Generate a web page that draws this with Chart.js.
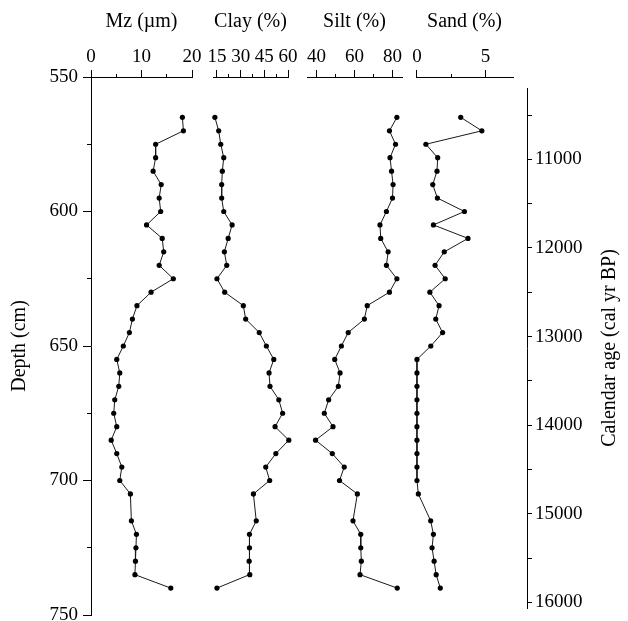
<!DOCTYPE html>
<html>
<head>
<meta charset="utf-8">
<script src="https://cdn.jsdelivr.net/npm/chart.js@4.4.0/dist/chart.umd.min.js"></script>
<style>
  body { margin: 0; background: #fff; }
  #wrap { position: relative; width: 628px; height: 621px; overflow: hidden; background: #fff; }
  #wrap canvas { position: absolute; top: 0; }
</style>
</head>
<body>
<div id="wrap">
  <canvas id="mzChart" width="212" height="640" style="left:0px"></canvas>
  <canvas id="clayChart" width="115" height="640" style="left:193px"></canvas>
  <canvas id="siltChart" width="135" height="640" style="left:287px"></canvas>
  <canvas id="sandChart" width="137" height="640" style="left:396px"></canvas>
  <canvas id="ageChart" width="128" height="640" style="left:500px"></canvas>
</div>
<script>
// sample depths (cm) - no sample at 710
const depths = [565, 570, 575, 580, 585, 590, 595, 600, 605, 610, 615, 620, 625, 630, 635, 640, 645, 650,
  655, 660, 665, 670, 675, 680, 685, 690, 695, 700, 705, 715, 720, 725, 730, 735, 740];

const mz = [18.1, 18.3, 12.8, 12.8, 12.3, 13.9, 13.5, 13.8, 11.0, 14.1, 14.4, 13.5, 16.3, 11.9, 9.1, 8.2, 7.6, 6.4,
  5.1, 5.7, 5.5, 4.7, 4.5, 5.1, 4.0, 5.1, 6.1, 5.7, 7.8, 8.0, 9.0, 8.9, 8.8, 8.7, 15.8];
const clay = [13.7, 16.1, 17.4, 19.3, 18.4, 18.0, 18.0, 19.3, 24.6, 22.1, 19.7, 21.2, 15.0, 19.9, 31.7, 33.2, 41.8, 46.3,
  51.0, 48.0, 48.6, 54.2, 56.6, 51.8, 60.5, 52.3, 45.9, 48.4, 38.1, 39.9, 35.6, 35.6, 35.4, 35.8, 15.0];
const silt = [82.3, 78.4, 81.6, 78.7, 79.5, 80.3, 80.0, 76.8, 73.4, 73.8, 77.7, 76.8, 82.3, 78.4, 66.7, 65.2, 56.7, 53.1,
  49.6, 52.4, 51.5, 46.4, 44.1, 48.7, 39.5, 48.3, 54.6, 52.1, 61.5, 59.2, 63.3, 63.3, 63.6, 62.9, 82.5];
const sand = [3.19, 4.73, 0.65, 1.51, 1.46, 1.15, 1.49, 3.46, 1.20, 3.72, 1.99, 1.32, 2.06, 0.94, 1.61, 1.37, 1.87, 1.01,
  0, 0, 0, 0, 0, 0, 0, 0, 0, 0, 0.1, 1.0, 1.2, 1.1, 1.25, 1.4, 1.7];

// tick positions and labelled ticks for each panel
const mzTicks = [0, 5, 10, 15, 20];
const mzLabels = [0, 10, 20];
const clayTicks = [15, 22.5, 30, 37.5, 45, 52.5, 60];
const clayLabels = [15, 30, 45, 60];
const siltTicks = [40, 50, 60, 70, 80];
const siltLabels = [40, 60, 80];
const sandTicks = [0, 2.5, 5];
const sandLabels = [0, 5];
const depthTicks = [550, 575, 600, 625, 650, 675, 700, 725, 750];
const depthLabels = [550, 600, 650, 700, 750];
const ageTicks = [10500, 11000, 11500, 12000, 12500, 13000, 13500, 14000, 14500, 15000, 15500, 16000];
const ageLabels = [11000, 12000, 13000, 14000, 15000, 16000];

const ageTitle = "Calendar age (cal yr BP)";

Chart.defaults.font.family = "'Liberation Serif', 'Times New Roman', serif";
Chart.defaults.color = "#000";
Chart.defaults.animation = false;

const TICK_FONT = { size: 19 };
const TITLE_FONT = { size: 20 };
const MINOR_DASH = [0, 4, 4, 100];

function fixTicks(list) {
  return scale => { scale.ticks = list.map(v => ({ value: v })); };
}

function makePanel(id, values, xMin, xMax, ticks, labels, title, withDepth) {
  const points = values.map((v, i) => ({ x: v, y: depths[i] }));
  return new Chart(document.getElementById(id), {
    type: "scatter",
    data: {
      datasets: [{
        data: points,
        showLine: true,
        borderColor: "#1a1a1a",
        borderWidth: 1,
        pointRadius: 2.6,
        pointBackgroundColor: "#000",
        pointBorderColor: "#000",
        pointBorderWidth: 0,
        clip: false
      }]
    },
    options: {
      responsive: false,
      // canvas is 640 tall, chart area ends at 615
      layout: { padding: { left: withDepth ? 0 : 20, right: 20, top: 0, bottom: 25 } },
      plugins: { legend: { display: false }, tooltip: { enabled: false } },
      scales: {
        x: {
          type: "linear",
          position: "top",
          min: xMin,
          max: xMax,
          afterBuildTicks: fixTicks(ticks),
          afterFit: s => { s.height = 77; },
          ticks: {
            font: TICK_FONT,
            padding: 2,
            maxRotation: 0,
            autoSkip: false,
            callback: v => labels.includes(v) ? String(v) : ""
          },
          grid: {
            display: true,
            drawOnChartArea: false,
            drawTicks: true,
            tickLength: 7,
            tickColor: "#000",
            tickBorderDash: ctx => labels.includes(ctx.tick.value) ? [] : MINOR_DASH
          },
          border: { display: true, color: "#000", width: 1 },
          title: { display: true, text: title, font: TITLE_FONT, padding: { top: 10, bottom: 0 } }
        },
        y: {
          type: "linear",
          display: withDepth,
          reverse: true,
          min: 550,
          max: 750,
          afterBuildTicks: fixTicks(depthTicks),
          afterFit: s => { if (withDepth) s.width = 91; },
          ticks: {
            font: TICK_FONT,
            padding: 5,
            autoSkip: false,
            callback: v => depthLabels.includes(v) ? String(v) : ""
          },
          grid: {
            display: true,
            drawOnChartArea: false,
            drawTicks: true,
            tickLength: 8,
            tickColor: "#000",
            tickBorderDash: ctx => depthLabels.includes(ctx.tick.value) ? [] : MINOR_DASH
          },
          border: { display: true, color: "#000", width: 1 },
          title: { display: true, text: "Depth (cm)", font: TITLE_FONT, padding: { top: 8, bottom: 0 } }
        }
      }
    }
  });
}

makePanel("mzChart", mz, 0, 20, mzTicks, mzLabels, "Mz (\u00b5m)", true);
makePanel("clayChart", clay, 12.5, 60, clayTicks, clayLabels, "Clay (%)", false);
makePanel("siltChart", silt, 35, 85, siltTicks, siltLabels, "Silt (%)", false);
makePanel("sandChart", sand, -0.07, 7, sandTicks, sandLabels, "Sand (%)", false);

// right-hand age axis, title reads bottom to top
const rightTitle = {
  id: "rightTitle",
  afterDraw(chart) {
    const { ctx, chartArea } = chart;
    ctx.save();
    ctx.translate(110, (chartArea.top + chartArea.bottom) / 2);
    ctx.rotate(-Math.PI / 2);
    ctx.font = "20px 'Liberation Serif', 'Times New Roman', serif";
    ctx.fillStyle = "#000";
    ctx.textAlign = "center";
    ctx.textBaseline = "middle";
    ctx.fillText(ageTitle, 0, 0);
    ctx.restore();
  }
};

new Chart(document.getElementById("ageChart"), {
  type: "scatter",
  data: { datasets: [{ data: [], pointRadius: 0 }] },
  options: {
    responsive: false,
    layout: { padding: { left: 0, right: 0, top: 88, bottom: 32 } },
    plugins: { legend: { display: false }, tooltip: { enabled: false } },
    scales: {
      x: { display: false, min: 0, max: 1 },
      y: {
        type: "linear",
        position: "right",
        reverse: true,
        min: 10195,
        max: 16064,
        afterBuildTicks: fixTicks(ageTicks),
        afterFit: s => { s.width = 101; },
        ticks: {
          font: TICK_FONT,
          padding: 3,
          autoSkip: false,
          callback: v => ageLabels.includes(v) ? String(v) : ""
        },
        grid: {
          display: true,
          drawOnChartArea: false,
          drawTicks: true,
          tickLength: 5,
          tickColor: "#000"
        },
        border: { display: true, color: "#000", width: 1 }
      }
    }
  },
  plugins: [rightTitle]
});
</script>
</body>
</html>
